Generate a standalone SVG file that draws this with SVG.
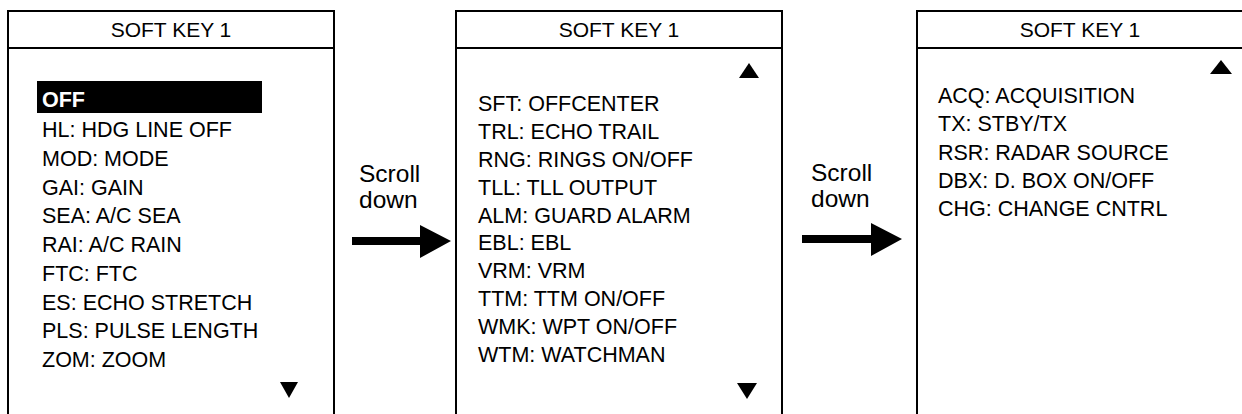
<svg xmlns="http://www.w3.org/2000/svg" width="1242" height="414" viewBox="0 0 1242 414">
<style>
.panel{fill:#fff;stroke:#000;stroke-width:2}
.hdr{stroke:#000;stroke-width:2}
.t{font-family:"Liberation Sans",Arial,sans-serif;font-size:21.5px;fill:#000}
.h{font-family:"Liberation Sans",Arial,sans-serif;font-size:21px;fill:#000;text-anchor:middle}
.s{font-family:"Liberation Sans",Arial,sans-serif;font-size:24.5px;fill:#000}
.tri{fill:#000}
</style>
<rect width="1242" height="414" fill="#fff"/>
<g id="panel1">
<rect class="panel" x="8" y="11" width="326" height="420"/>
<line class="hdr" x1="8" y1="48" x2="334" y2="48"/>
<text class="h" x="171" y="37">SOFT KEY 1</text>
<rect x="37" y="81" width="225" height="32" fill="#000"/>
<text class="t" x="42" y="107" style="font-weight:bold;fill:#fff">OFF</text>
<text class="t" x="42" y="137">HL: HDG LINE OFF</text>
<text class="t" x="42" y="166">MOD: MODE</text>
<text class="t" x="42" y="195">GAI: GAIN</text>
<text class="t" x="42" y="223">SEA: A/C SEA</text>
<text class="t" x="42" y="252">RAI: A/C RAIN</text>
<text class="t" x="42" y="281">FTC: FTC</text>
<text class="t" x="42" y="310">ES: ECHO STRETCH</text>
<text class="t" x="42" y="338">PLS: PULSE LENGTH</text>
<text class="t" x="42" y="367">ZOM: ZOOM</text>
<polygon class="tri" points="280,382 298,382 289,398"/>
</g>
<g id="panel2">
<rect class="panel" x="456" y="11" width="326" height="420"/>
<line class="hdr" x1="456" y1="48" x2="782" y2="48"/>
<text class="h" x="619" y="37">SOFT KEY 1</text>
<polygon class="tri" points="739,78 759,78 749,63"/>
<text class="t" x="478" y="111">SFT: OFFCENTER</text>
<text class="t" x="478" y="139">TRL: ECHO TRAIL</text>
<text class="t" x="478" y="167">RNG: RINGS ON/OFF</text>
<text class="t" x="478" y="195">TLL: TLL OUTPUT</text>
<text class="t" x="478" y="223">ALM: GUARD ALARM</text>
<text class="t" x="478" y="250">EBL: EBL</text>
<text class="t" x="478" y="278">VRM: VRM</text>
<text class="t" x="478" y="306">TTM: TTM ON/OFF</text>
<text class="t" x="478" y="334">WMK: WPT ON/OFF</text>
<text class="t" x="478" y="362">WTM: WATCHMAN</text>
<polygon class="tri" points="737,383 757,383 747,399"/>
</g>
<g id="panel3">
<rect class="panel" x="917" y="11" width="326" height="420"/>
<line class="hdr" x1="917" y1="48" x2="1243" y2="48"/>
<text class="h" x="1080" y="37">SOFT KEY 1</text>
<polygon class="tri" points="1210,74 1232,74 1221,60"/>
<text class="t" x="938" y="103">ACQ: ACQUISITION</text>
<text class="t" x="938" y="131">TX: STBY/TX</text>
<text class="t" x="938" y="160">RSR: RADAR SOURCE</text>
<text class="t" x="938" y="188">DBX: D. BOX ON/OFF</text>
<text class="t" x="938" y="216">CHG: CHANGE CNTRL</text>
</g>
<g id="connectors">
<text class="s" x="359" y="182">Scroll</text>
<text class="s" x="359" y="208">down</text>
<path d="M352 237 H420 V225 L451 241 L420 258 V245 H352 Z" fill="#000"/>
<text class="s" x="811" y="181">Scroll</text>
<text class="s" x="811" y="207">down</text>
<path d="M802 235 H871 V223 L902 239 L871 256 V243 H802 Z" fill="#000"/>
</g>
</svg>
